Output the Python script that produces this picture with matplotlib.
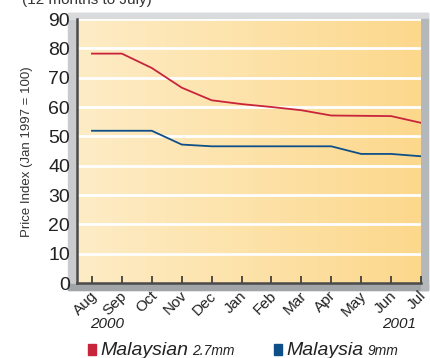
import numpy as np
import matplotlib.pyplot as plt
import matplotlib.transforms as mtransforms
from matplotlib.patches import Rectangle

plt.rcParams['font.family'] = ['Liberation Sans', 'DejaVu Sans']

# Данные: индекс цен по месяцам (авг 2000 - июл 2001)
months = ['Aug', 'Sep', 'Oct', 'Nov', 'Dec', 'Jan', 'Feb', 'Mar', 'Apr', 'May', 'Jun', 'Jul']
malaysian_27 = [78.2, 78.2, 73.3, 66.6, 62.3, 61.0, 60.0, 58.9, 57.1, 57.0, 56.9, 54.6]
malaysia_9 = [51.9, 51.9, 51.9, 47.2, 46.6, 46.6, 46.6, 46.6, 46.6, 44.0, 44.0, 43.2]
years = ['2000', '2001']
y_ticks = list(range(0, 100, 10))

red = '#c8243c'
blue = '#0e4f8a'

W, H = 430, 358
fig = plt.figure(figsize=(W / 100, H / 100), dpi=100)


def frame_rect(x0, y0, w, h, color):
    # прямоугольник в пикселях от левого верхнего угла
    fig.patches.append(Rectangle((x0 / W, 1 - (y0 + h) / H), w / W, h / H,
                                 transform=fig.transFigure, color=color, zorder=-5))


# серая "объёмная" рамка за областью графика
frame_rect(68, 13, 360, 277, '#c9cbce')
frame_rect(68, 13, 360, 6, '#d8dadc')
frame_rect(68, 284, 360, 6, '#a2a5a8')
frame_rect(421, 19, 7, 271, '#b5b8bb')

ax = fig.add_axes([77 / W, 1 - 283 / H, 344 / W, 264 / H])
x = np.arange(len(months))

# градиент фона
grad = np.linspace(0, 1, 256)
c0 = np.array([254, 236, 198]) / 255
c1 = np.array([252, 216, 140]) / 255
img = c0[None, :] * (1 - grad[:, None]) + c1[None, :] * grad[:, None]
ax.imshow(img[None, :, :], extent=(-0.5, 11, 0, 90), aspect='auto', zorder=0)

for v in y_ticks[1:]:
    ax.axhline(v, color='white', lw=2, zorder=1)

ax.plot(x, malaysian_27, color=red, lw=1.3, zorder=3)
ax.plot(x, malaysia_9, color=blue, lw=1.3, zorder=3)

ax.set_xlim(-0.5, 11)
ax.set_ylim(0, 90)
ax.set_yticks(y_ticks)
ax.set_yticklabels([str(v) for v in y_ticks], fontsize=14, color='#222222')
ax.tick_params(axis='y', length=0, pad=5)
ax.set_xticks(x)
ax.set_xticklabels(months, fontsize=11, rotation=45, ha='right', va='top',
                   rotation_mode='anchor', color='#222222')
ax.tick_params(axis='x', direction='in', length=5, width=1.2, color='#333333', pad=4)
shift = mtransforms.ScaledTranslation(-2 / 100, 0, fig.dpi_scale_trans)
for lbl in ax.get_xticklabels():
    lbl.set_transform(lbl.get_transform() + shift)

for side in ['top', 'right']:
    ax.spines[side].set_visible(False)
ax.spines['left'].set_color('#4a4a4a')
ax.spines['left'].set_linewidth(1.8)
ax.spines['bottom'].set_color('#4a4a4a')
ax.spines['bottom'].set_linewidth(1.8)

fig.text(27 / W, 1 - 152 / H, 'Price Index (Jan 1997 = 100)', rotation=90,
         ha='center', va='center', fontsize=9.5, color='#333333')
fig.text(22 / W, 1 - 4 / H, '(12 months to July)', fontsize=11, color='#333333',
         va='baseline')

fig.text(107 / W, 1 - 324 / H, years[0], fontsize=11, style='italic',
         ha='center', va='center', color='#222222')
fig.text(399 / W, 1 - 324 / H, years[1], fontsize=11, style='italic',
         ha='center', va='center', color='#222222')

# легенда
renderer = fig.canvas.get_renderer()
legend_items = [(red, 'Malaysian', '2.7mm', 88), (blue, 'Malaysia', '9mm', 274)]
for color, name, size, x0 in legend_items:
    fig.patches.append(Rectangle((x0 / W, 1 - 355 / H), 8 / W, 11 / H,
                                 transform=fig.transFigure, color=color))
    t = fig.text((x0 + 12) / W, 1 - 355 / H, name, fontsize=14, style='italic',
                 va='baseline', color='#222222')
    bb = t.get_window_extent(renderer)
    fig.text((bb.x1 + 4) / W, 1 - 355 / H, size, fontsize=10, style='italic',
             va='baseline', color='#222222')

fig.savefig('out.png', dpi=100)
